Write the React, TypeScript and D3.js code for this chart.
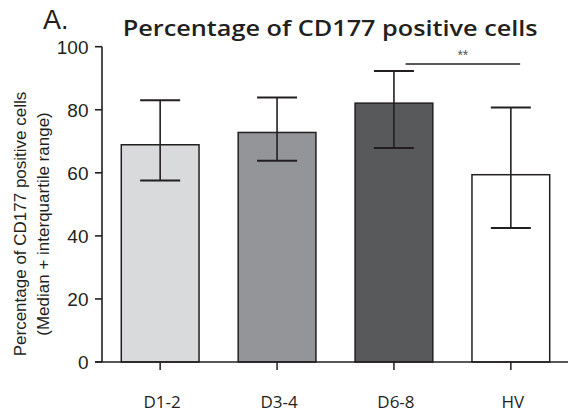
import React from "react";
import * as d3 from "d3";

const categories = ["D1-2", "D3-4", "D6-8", "HV"];
const medians = [68.9, 72.8, 82.1, 59.4];
const q1 = [57.6, 63.8, 67.9, 42.5];
const q3 = [83.0, 83.9, 92.3, 80.7];
const barColors = ["#d9dadb", "#939598", "#58595b", "#ffffff"];
const yTicks = [0, 20, 40, 60, 80, 100];
const sigPair = ["D6-8", "HV"];
const sigLabel = "**";

export default function App() {
  const W = 568, H = 418;
  const x = d3.scaleBand<string>().domain(categories).range([102, 569]).paddingInner(0.335).paddingOuter(0.165);
  const y = d3.scaleLinear().domain([0, 100]).range([362, 46.7]);
  const ink = "#231f20";
  const bw = x.bandwidth();
  const capW = 40;
  const sigX1 = (x(sigPair[0]) as number) + bw * 0.65;
  const sigX2 = (x(sigPair[1]) as number) + bw * 0.62;
  return (
    <svg width={W} height={H} style={{ position: "absolute", left: 0, top: 0 }}>
      <rect width={W} height={H} fill="#fff" />
      <text x={43} y={28.5} fontFamily="'Liberation Sans', Arial, sans-serif" fontSize={27} fill={ink}>A.</text>
      <text x={122.7} y={36} fontFamily="'Open Sans', sans-serif" fontWeight={600} fontSize={21} fill={ink}
        textLength={415} lengthAdjust="spacingAndGlyphs">Percentage of CD177 positive cells</text>
      {categories.map((c, i) => {
        const x0 = x(c) as number;
        const cx = x0 + bw / 2;
        return (
          <g key={c}>
            <rect x={x0} y={y(medians[i])} width={bw} height={y(0) - y(medians[i])} fill={barColors[i]} stroke={ink} strokeWidth={1.5} />
            <line x1={cx} x2={cx} y1={y(q1[i])} y2={y(q3[i])} stroke={ink} strokeWidth={1.6} />
            <line x1={cx - capW / 2} x2={cx + capW / 2} y1={y(q1[i])} y2={y(q1[i])} stroke={ink} strokeWidth={2} />
            <line x1={cx - capW / 2} x2={cx + capW / 2} y1={y(q3[i])} y2={y(q3[i])} stroke={ink} strokeWidth={2} />
            <line x1={cx} x2={cx} y1={y(0)} y2={y(0) + 8} stroke={ink} strokeWidth={1.5} />
            <text x={cx + 2} y={408} textAnchor="middle" fontFamily="'Open Sans', sans-serif" fontSize={17} fill={ink}>{c}</text>
          </g>
        );
      })}
      <line x1={102} x2={102} y1={y(100)} y2={y(0)} stroke={ink} strokeWidth={1.6} />
      <line x1={95} x2={568} y1={y(0)} y2={y(0)} stroke={ink} strokeWidth={1.6} />
      {yTicks.map((t) => (
        <g key={t}>
          <line x1={95} x2={102} y1={y(t)} y2={y(t)} stroke={ink} strokeWidth={1.6} />
          <text x={88.5} y={y(t)} dy="0.36em" textAnchor="end" fontFamily="'Liberation Sans', Arial, sans-serif" fontSize={19} fill={ink}>{t}</text>
        </g>
      ))}
      <g transform="translate(0,224) rotate(-90)">
        <text x={0} y={26} textAnchor="middle" fontFamily="'Liberation Sans', Arial, sans-serif" fontSize={17} fill={ink}>Percentage of CD177 positive cells</text>
        <text x={0} y={48.5} textAnchor="middle" fontFamily="'Liberation Sans', Arial, sans-serif" fontSize={17} fill={ink}>(Median + interquartile range)</text>
      </g>
      <line x1={sigX1} x2={sigX2} y1={64} y2={64} stroke={ink} strokeWidth={1.3} />
      <text x={(sigX1 + sigX2) / 2} y={60} textAnchor="middle" fontFamily="'Liberation Sans', Arial, sans-serif" fontSize={14} fill="#555">{sigLabel}</text>
    </svg>
  );
}
